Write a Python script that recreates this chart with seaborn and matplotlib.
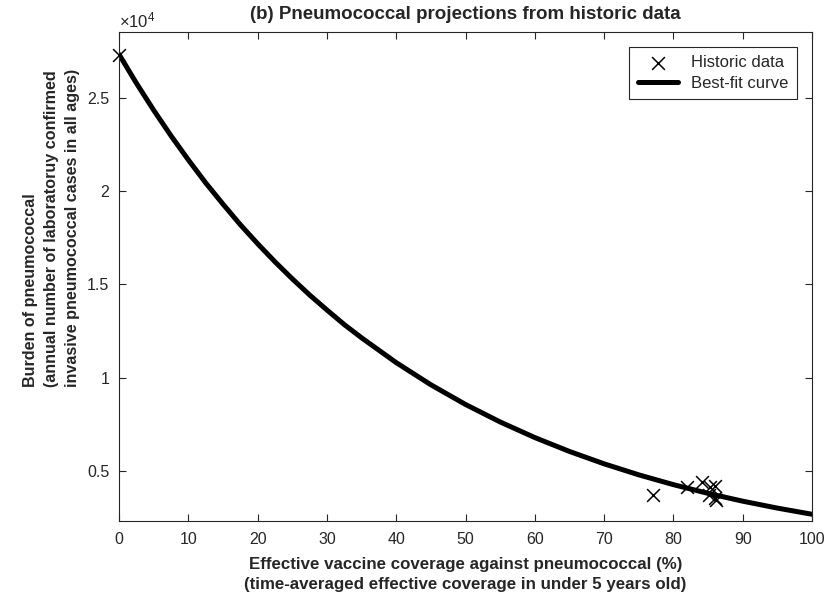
import matplotlib
matplotlib.use("Agg")
import matplotlib.pyplot as plt
import seaborn as sns
import pandas as pd

# Historic observations: effective coverage (%) vs annual confirmed cases
hist_coverage = [0.0, 77.1, 82.0, 84.1, 85.3, 86.0, 85.2, 86.0, 86.2]
hist_cases = [27300, 3720, 4150, 4420, 4170, 4230, 3700, 3560, 3450]

# Best-fit curve, sampled more densely where it bends most
fit_coverage = [0, 2.5, 5, 7.5, 10, 12.5, 15, 17.5, 20, 22.5, 25, 27.5, 30, 32.5,
                35, 40, 45, 50, 55, 60, 65, 70, 75, 80, 85, 90, 95, 100]
fit_cases = [27320, 25780, 24330, 22960, 21670, 20440, 19300, 18200, 17180, 16210,
             15300, 14435, 13630, 12850, 12140, 10810, 9625, 8570, 7633, 6798,
             6054, 5391, 4801, 4276, 3808, 3391, 3020, 2690]

x_ticks = [0, 10, 20, 30, 40, 50, 60, 70, 80, 90, 100]
y_ticks = [5000, 10000, 15000, 20000, 25000]
y_tick_labels = ["0.5", "1", "1.5", "2", "2.5"]

sns.set_theme(style="ticks")
plt.rcParams["font.family"] = ["Liberation Sans", "DejaVu Sans"]
plt.rcParams["mathtext.fontset"] = "custom"
plt.rcParams["mathtext.rm"] = "Liberation Sans"

axis_grey = "#262626"

fig = plt.figure(figsize=(8.3, 5.95), dpi=100)
ax = fig.add_axes([0.1434, 0.1244, 0.8349, 0.8210])

hist_df = pd.DataFrame({"coverage": hist_coverage, "cases": hist_cases})
fit_df = pd.DataFrame({"coverage": fit_coverage, "cases": fit_cases})

sns.lineplot(data=fit_df, x="coverage", y="cases", ax=ax, color="black",
             linewidth=3.6, label="Best-fit curve", zorder=2)
sns.scatterplot(data=hist_df, x="coverage", y="cases", ax=ax, marker="x",
                color="black", s=85, linewidth=1.1, label="Historic data", zorder=3,
                clip_on=False)

ax.set_xlim(0, 100)
ax.set_ylim(2330, 28490)
ax.set_xticks(x_ticks)
ax.set_xticklabels([str(t) for t in x_ticks])
ax.set_yticks(y_ticks)
ax.set_yticklabels(y_tick_labels)

ax.tick_params(direction="in", length=5, width=0.8, colors=axis_grey,
               labelsize=11.5, top=True, right=True, pad=7)
ax.tick_params(axis="x", pad=8)
for side in ax.spines.values():
    side.set_color(axis_grey)
    side.set_linewidth(0.8)
    side.set_visible(True)

ax.text(0.0, 1.004, r"$\times\mathdefault{10^{4}}$", transform=ax.transAxes,
        ha="left", va="bottom", fontsize=12, color=axis_grey)

ax.set_title("(b) Pneumococcal projections from historic data",
             fontsize=13.5, fontweight="bold", pad=10)
ax.set_xlabel("Effective vaccine coverage against pneumococcal (%)\n"
              "(time-averaged effective coverage in under 5 years old)",
              fontsize=12.2, fontweight="bold", linespacing=1.4, labelpad=7)
ax.set_ylabel("Burden of pneumococcal\n"
              "(annual number of laboratoruy confirmed\n"
              "invasive pneumococcal cases in all ages)",
              fontsize=11.6, fontweight="bold", linespacing=1.5,
              multialignment="left")
ax.yaxis.label.set_horizontalalignment("left")
ax.yaxis.set_label_coords(-0.056, 0.2743)

handles, labels = ax.get_legend_handles_labels()
order = [labels.index("Historic data"), labels.index("Best-fit curve")]
leg = ax.legend([handles[i] for i in order], [labels[i] for i in order],
                loc="upper right", bbox_to_anchor=(0.978, 0.971), borderaxespad=0,
                fontsize=12, frameon=True, fancybox=False, framealpha=1,
                edgecolor=axis_grey, handlelength=2.4, handletextpad=0.8,
                borderpad=0.5, labelspacing=0.35)
leg.get_frame().set_linewidth(0.8)

fig.savefig("out.png", dpi=100)
